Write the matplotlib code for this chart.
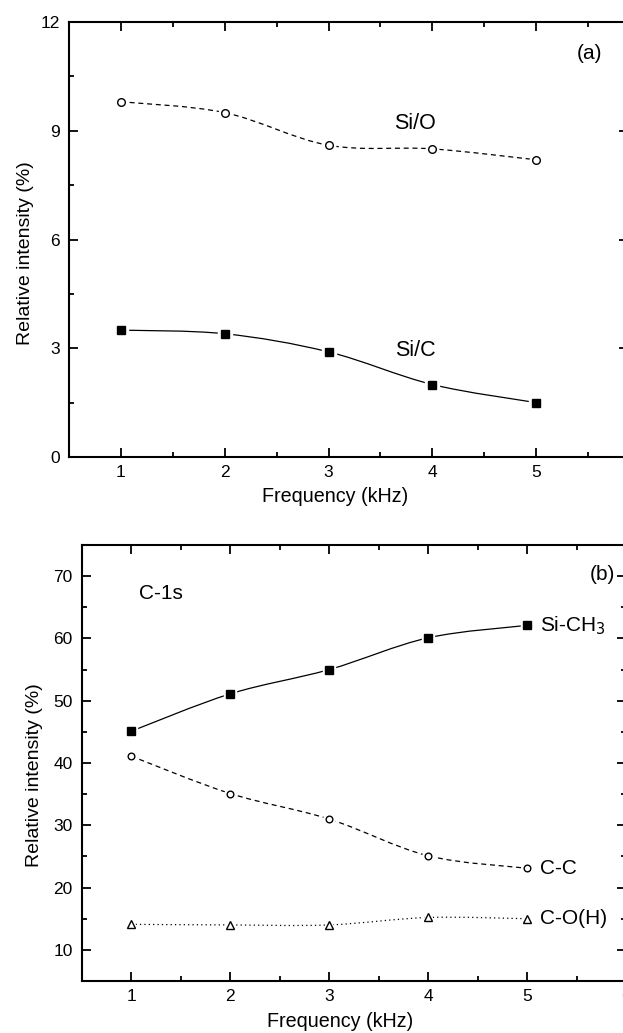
import matplotlib.pyplot as plt
from matplotlib.path import Path
from matplotlib.patches import PathPatch

plt.rcParams['font.family'] = ['Liberation Sans', 'DejaVu Sans']

# data
freq = [1, 2, 3, 4, 5]

si_o = [9.8, 9.5, 8.6, 8.5, 8.2]
si_c = [3.5, 3.4, 2.9, 2.0, 1.5]

si_ch3 = [45.1, 51.1, 55.0, 60.1, 62.1]
c_c = [41.1, 35.1, 31.0, 25.1, 23.1]
c_oh = [14.1, 14.0, 14.0, 15.2, 15.0]


def smooth_path(xs, ys):
    # Catmull-Rom through the points, expressed as cubic Bezier segments
    pts = list(zip(xs, ys))
    ext = [pts[0]] + pts + [pts[-1]]
    verts = [pts[0]]
    codes = [Path.MOVETO]
    for i in range(1, len(ext) - 2):
        p0, p1, p2, p3 = ext[i - 1], ext[i], ext[i + 1], ext[i + 2]
        c1 = (p1[0] + (p2[0] - p0[0]) / 6, p1[1] + (p2[1] - p0[1]) / 6)
        c2 = (p2[0] - (p3[0] - p1[0]) / 6, p2[1] - (p3[1] - p1[1]) / 6)
        verts += [c1, c2, p2]
        codes += [Path.CURVE4] * 3
    return Path(verts, codes)


def draw_series(ax, xs, ys, marker, ms, filled, ls):
    patch = PathPatch(smooth_path(xs, ys), fill=False, edgecolor='black',
                      lw=0.9, linestyle=ls, transform=ax.transData)
    ax.add_patch(patch)
    # white halo gives the small gap Origin leaves around each symbol
    ax.plot(xs, ys, ls='none', marker=marker, ms=ms + 3.5, mfc='white',
            mec='white', zorder=3)
    ax.plot(xs, ys, ls='none', marker=marker, ms=ms,
            mfc='black' if filled else 'white', mec='black', mew=1.0,
            zorder=4)


def style_axes(ax):
    for sp in ax.spines.values():
        sp.set_linewidth(1.5)
    ax.tick_params(which='both', direction='in', top=True, right=True,
                   width=1.3, labelsize=12.5)
    ax.tick_params(which='major', length=6.5)
    ax.tick_params(which='minor', length=3.5)
    ax.tick_params(axis='x', pad=5.5)
    ax.tick_params(axis='y', pad=6.5)


fig = plt.figure(figsize=(6.23, 10.33), dpi=100)
W, H = 623, 1033

# ---- panel (a)
ax1 = fig.add_axes([69 / W, 1 - 457 / H, (628 - 69) / W, 435 / H])
draw_series(ax1, freq, si_o, 'o', 5.5, False, (0, (4, 3)))
draw_series(ax1, freq, si_c, 's', 6.2, True, '-')
ax1.set_xlim(0.5, 5.885)
ax1.set_ylim(0, 12)
ax1.set_xticks([1, 2, 3, 4, 5])
ax1.set_xticks([1.5, 2.5, 3.5, 4.5, 5.5], minor=True)
ax1.set_yticks([0, 3, 6, 9, 12])
ax1.set_yticks([1.5, 4.5, 7.5, 10.5], minor=True)
style_axes(ax1)
ax1.set_xlabel('Frequency (kHz)', fontsize=14.2)
ax1.set_ylabel('Relative intensity (%)', fontsize=14)
ax1.xaxis.set_label_coords(0.476, -0.068)
ax1.yaxis.set_label_coords(-0.063, 0.469)
ax1.text(3.835, 9.21, 'Si/O', fontsize=15.5, ha='center', va='center')
ax1.text(3.835, 2.95, 'Si/C', fontsize=15.5, ha='center', va='center')
ax1.text(5.51, 11.14, '(a)', fontsize=15, ha='center', va='center')

# ---- panel (b)
ax2 = fig.add_axes([81.7 / W, 1 - 981 / H, (626.2 - 81.7) / W, 436 / H])
draw_series(ax2, freq, si_ch3, 's', 5.6, True, '-')
draw_series(ax2, freq, c_c, 'o', 4.8, False, (0, (4, 3)))
draw_series(ax2, freq, c_oh, '^', 6.2, False, (0, (1, 2.5)))
ax2.set_xlim(0.5, 6.0)
ax2.set_ylim(5, 75)
ax2.set_xticks([1, 2, 3, 4, 5, 6])
ax2.set_xticks([1.5, 2.5, 3.5, 4.5, 5.5], minor=True)
ax2.set_yticks([10, 20, 30, 40, 50, 60, 70])
ax2.set_yticks([15, 25, 35, 45, 55, 65], minor=True)
style_axes(ax2)
ax2.set_xlabel('Frequency (kHz)', fontsize=14.2)
ax2.set_ylabel('Relative intensity (%)', fontsize=14)
ax2.xaxis.set_label_coords(0.474, -0.071)
ax2.yaxis.set_label_coords(-0.071, 0.472)
ax2.text(1.30, 67.2, 'C-1s', fontsize=15, ha='center', va='center')
ax2.text(5.76, 70.3, '(b)', fontsize=15, ha='center', va='center')
ax2.text(5.13, si_ch3[-1], 'Si-CH$_3$', fontsize=15, ha='left', va='center')
ax2.text(5.13, c_c[-1], 'C-C', fontsize=15, ha='left', va='center')
ax2.text(5.13, c_oh[-1], 'C-O(H)', fontsize=15, ha='left', va='center')

fig.savefig('out.png', dpi=100)
